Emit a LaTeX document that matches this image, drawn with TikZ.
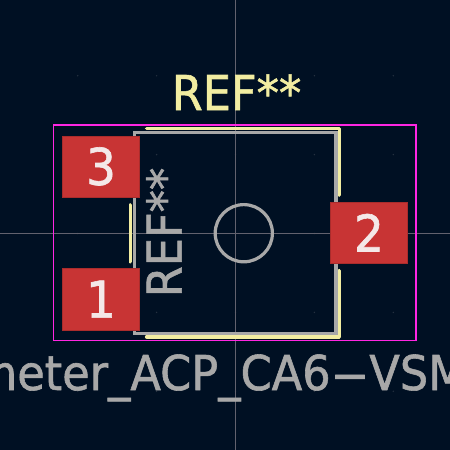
\documentclass[tikz,border=0pt]{standalone}
\usepackage{fontspec}
\setmainfont{DejaVu Sans}[FakeStretch=.93,FakeBold=1.2]
\definecolor{boardbg}{HTML}{001023}
\definecolor{padred}{HTML}{C83434}
\definecolor{padtxt}{HTML}{F4E8E8}
\definecolor{silk}{HTML}{F2EDA1}
\definecolor{fab}{HTML}{A8A8A8}
\definecolor{court}{HTML}{FF26E2}
\definecolor{axis}{HTML}{62626E}
\definecolor{griddot}{HTML}{24303F}
\begin{document}
\begin{tikzpicture}
      [x=.75pt,y=-.75pt
      ,axisline/.style={color=axis,line width=.6pt}
      ,crt/.style={color=court,line width=1.1pt}
      ,fabline/.style={color=fab,line width=2.7pt}
      ,silkline/.style={color=silk,line width=2.7pt,line cap=round,line join=round}
      ,padbox/.style={fill=padred,draw=padred!85!black,line width=.4pt,minimum width=57.6pt,minimum height=45.9pt,inner sep=0pt,text=padtxt,font=\fontsize{38}{38}\selectfont}
      ,reftxt/.style={inner sep=0pt,font=\fontsize{36}{36}\selectfont}
      ]
        \fill[boardbg] (0,0) rectangle (450,450);
        \useasboundingbox (0,0) rectangle (450,450);
        \foreach \i in {77.7,156.6,235.5,314.4,393.3}{
          \foreach \j in {75.7,154.6,233.5,312.4,391.3}{
            \fill[griddot] (\i,\j) circle (.6pt);
          }
        }
        \draw[axisline] (235.3,0) -- (235.3,450);
        \draw[axisline] (0,233.2) -- (450,233.2);
        \draw[crt] (53.7,125) rectangle (416,340.3);
        \draw[fabline] (134.3,132.3) rectangle (336,333.3);
        \draw[fab,line width=2.4pt] (243.8,233.2) circle (28.6);
        \draw[silkline] (146.7,128.4) -- (339.3,128.4) -- (339.3,195);
        \draw[silkline] (339.3,270.7) -- (339.3,336.7) -- (146.7,336.7);
        \draw[silkline] (130.3,205) -- (130.3,261.7);
        \node[padbox] (pad3) at (101,166.4) {3};
        \node[padbox] (pad1) at (101,299.2) {1};
        \node[padbox] (pad2) at (369,232.7) {2};
        \node[reftxt,text=silk,anchor=base] (reftop) at (236.5,110) {REF**};
        \node[reftxt,text=fab,anchor=base,rotate=90] (refside) at (181.7,232.5) {REF**};
        \node[reftxt,text=fab,anchor=base east] (valtxt) at (467,390) {meter\_ACP\_CA6\scalebox{2.4}[1]{-}VSM};
      \end{tikzpicture}
\end{document}
